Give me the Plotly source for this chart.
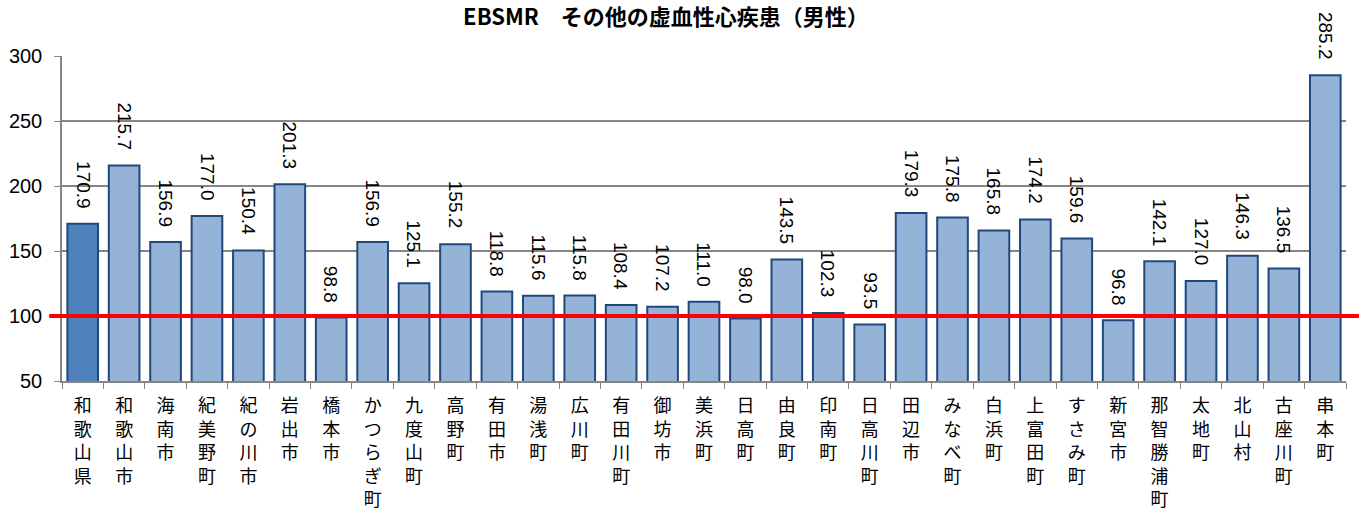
import plotly.graph_objects as go

# 標準化死亡比（EBSMR）: その他の虚血性心疾患・男性
areas = ["和歌山県", "和歌山市", "海南市", "紀美野町", "紀の川市", "岩出市", "橋本市",
         "かつらぎ町", "九度山町", "高野町", "有田市", "湯浅町", "広川町", "有田川町",
         "御坊市", "美浜町", "日高町", "由良町", "印南町", "日高川町", "田辺市",
         "みなべ町", "白浜町", "上富田町", "すさみ町", "新宮市", "那智勝浦町", "太地町",
         "北山村", "古座川町", "串本町"]
ebsmr = [170.9, 215.7, 156.9, 177.0, 150.4, 201.3, 98.8,
         156.9, 125.1, 155.2, 118.8, 115.6, 115.8, 108.4,
         107.2, 111.0, 98.0, 143.5, 102.3, 93.5, 179.3,
         175.8, 165.8, 174.2, 159.6, 96.8, 142.1, 127.0,
         146.3, 136.5, 285.2]
baseline = 100
y_ticks = [50, 100, 150, 200, 250, 300]

# 縦書きのラベル
vertical = ["<br>".join(list(a)) for a in areas]

fill = ["#4F81BD"] + ["#95B3D7"] * (len(areas) - 1)

fig = go.Figure()
fig.add_trace(go.Bar(
    x=areas, y=ebsmr,
    marker=dict(color=fill, line=dict(color="#1F497D", width=2)),
    hoverinfo="x+y",
))

# 値ラベル（縦向き）
for a, v in zip(areas, ebsmr):
    fig.add_annotation(
        x=a, y=v, text=f"{v:.1f}", showarrow=False, textangle=90,
        xanchor="center", yanchor="bottom", yshift=13,
        font=dict(family="Liberation Sans, Arial", size=19, color="#000000"),
    )

# 基準値 100 の赤線
fig.add_shape(type="line", xref="paper", yref="y",
              x0=-0.01, x1=1.02, y0=baseline, y1=baseline,
              line=dict(color="#FF0000", width=4))

fig.update_layout(
    width=1359, height=515,
    margin=dict(l=62, r=13, t=56, b=134, autoexpand=False),
    paper_bgcolor="#FFFFFF", plot_bgcolor="#FFFFFF",
    bargap=0.26,
    showlegend=False,
    title=dict(text="<b>EBSMR　その他の虚血性心疾患（男性）</b>",
               x=0.49, xanchor="center", yref="container", y=0.966, yanchor="middle",
               font=dict(family="Noto Sans CJK JP", size=22, color="#000000")),
    xaxis=dict(
        tickmode="array", tickvals=areas, ticktext=vertical,
        tickangle=0, tickson="boundaries", ticks="outside", ticklen=6,
        ticklabelstandoff=8, automargin=False,
        tickcolor="#868686", showline=True, linecolor="#868686", linewidth=1.5,
        tickfont=dict(family="Noto Sans CJK JP", size=18, color="#000000"),
        showgrid=False,
    ),
    yaxis=dict(
        range=[50, 300], tickvals=y_ticks, ticks="outside", ticklen=6,
        ticklabelstandoff=8, automargin=False,
        tickcolor="#868686", showline=True, linecolor="#868686", linewidth=1.5,
        showgrid=True, gridcolor="#868686", gridwidth=1.5,
        tickfont=dict(family="Liberation Sans, Arial", size=20, color="#000000"),
        zeroline=False,
    ),
)

fig.write_html("out.html")
